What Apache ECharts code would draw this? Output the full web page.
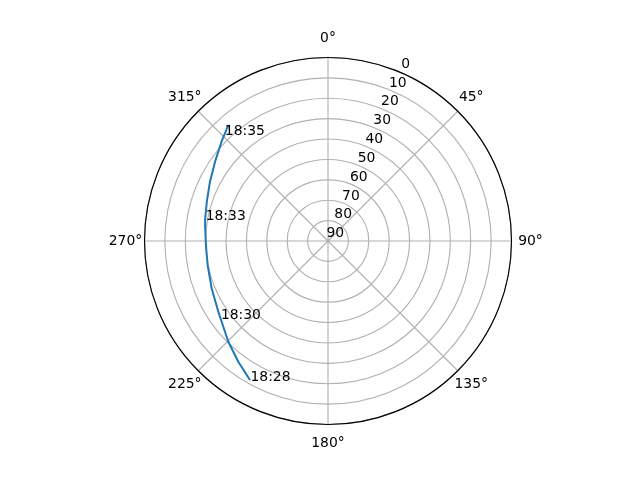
<!DOCTYPE html>
<html>
<head>
<meta charset="utf-8">
<script src="https://cdn.jsdelivr.net/npm/echarts@6/dist/echarts.min.js"></script>
<style>
html,body{margin:0;padding:0;background:#fff;}
#chart{width:640px;height:480px;}
</style>
</head>
<body>
<div id="chart"></div>
<script>
// Azimuth (degrees, clockwise from north) and elevation (degrees) of the pass
var azimuth   = [209.3, 216.6, 224.7, 234.4, 237.2, 247.9, 258.7, 268.1, 277.4, 280.2, 288.0, 296.7, 305.1, 313.0, 315.7, 319.3];
var elevation = [11.8, 16.2, 20.5, 25.1, 26.0, 28.4, 29.8, 30.1, 29.2, 28.8, 27.5, 25.2, 22.3, 18.6, 17.2, 15.0];
var timeLabels = ['18:28', '', '', '18:30', '', '', '', '', '', '18:33', '', '', '', '', '18:35', ''];
var angleTicks = [0, 45, 90, 135, 180, 225, 270, 315];
var radiusTicks = [0, 10, 20, 30, 40, 50, 60, 70, 80, 90];
var radiusLabelAngle = 22.5;

var FONT = 'DejaVu Sans';
var FS = 13.9;
var GRID = '#b0b0b0';

var seriesData = azimuth.map(function (a, i) {
  var item = { value: [elevation[i], a] };
  if (timeLabels[i]) {
    item.label = { show: true, formatter: timeLabels[i] };
  }
  return item;
});

var angleLabelData = angleTicks.map(function (a) {
  return { value: [1, a], label: { formatter: a + '°' } };
});

var radiusLabelData = radiusTicks.map(function (v) {
  return { value: [v, radiusLabelAngle], label: { formatter: String(v) } };
});

var textLabel = {
  show: true,
  position: 'inside',
  align: 'center',
  verticalAlign: 'middle',
  color: '#000',
  opacity: 1,
  textBorderWidth: 0,
  fontFamily: FONT,
  fontSize: FS
};

var chart = echarts.init(document.getElementById('chart'), null, { renderer: 'canvas' });
chart.setOption({
  animation: false,
  backgroundColor: '#ffffff',
  polar: [
    { center: [328, 241], radius: 183.5 },
    { center: [328, 241], radius: [9.5, 193] },
    { center: [328, 241], radius: 202.5 }
  ],
  angleAxis: [
    {
      polarIndex: 0,
      type: 'value',
      min: 0,
      max: 360,
      interval: 45,
      startAngle: 90,
      clockwise: true,
      axisLine: { show: true, lineStyle: { color: '#000', width: 1.1 } },
      axisTick: { show: false },
      axisLabel: { show: false },
      splitLine: { show: true, lineStyle: { color: GRID, width: 1.1 } }
    },
    { polarIndex: 1, type: 'value', min: 0, max: 360, startAngle: 90, clockwise: true, show: false },
    { polarIndex: 2, type: 'value', min: 0, max: 360, startAngle: 90, clockwise: true, show: false }
  ],
  radiusAxis: [
    {
      polarIndex: 0,
      type: 'value',
      min: 0,
      max: 90,
      interval: 10,
      inverse: true,
      axisLine: { show: false },
      axisTick: { show: false },
      axisLabel: { show: false },
      splitLine: { show: true, lineStyle: { color: GRID, width: 1.1 } }
    },
    { polarIndex: 1, type: 'value', min: 0, max: 90, inverse: true, show: false },
    { polarIndex: 2, type: 'value', min: 0, max: 1, show: false }
  ],
  series: [
    {
      type: 'line',
      coordinateSystem: 'polar',
      polarIndex: 0,
      data: seriesData,
      symbol: 'circle',
      symbolSize: 1,
      showSymbol: true,
      showAllSymbol: true,
      lineStyle: { color: '#1f77b4', width: 2 },
      itemStyle: { color: '#1f77b4' },
      label: {
        show: false,
        position: 'right',
        distance: 0,
        align: 'left',
        verticalAlign: 'bottom',
        offset: [0, 4],
        color: '#000',
        fontFamily: FONT,
        fontSize: FS
      },
      emphasis: { disabled: true },
      z: 5
    },
    {
      type: 'scatter',
      coordinateSystem: 'polar',
      polarIndex: 2,
      data: angleLabelData,
      symbol: 'circle',
      symbolSize: 0.5,
      itemStyle: { color: '#ffffff' },
      label: textLabel,
      emphasis: { disabled: true },
      silent: true,
      z: 6
    },
    {
      type: 'scatter',
      coordinateSystem: 'polar',
      polarIndex: 1,
      data: radiusLabelData,
      symbol: 'circle',
      symbolSize: 0.5,
      itemStyle: { color: '#ffffff' },
      label: Object.assign({}, textLabel, { offset: [3.7, 1.5] }),
      emphasis: { disabled: true },
      silent: true,
      z: 6
    }
  ]
});
</script>
</body>
</html>
